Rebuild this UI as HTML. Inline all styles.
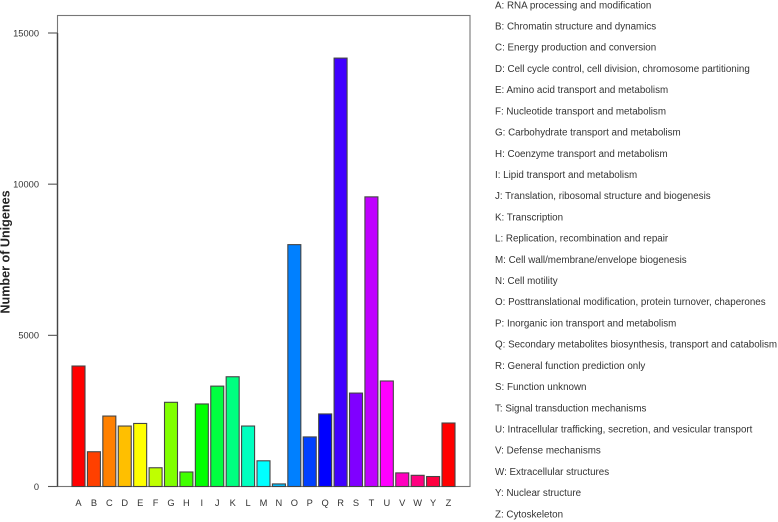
<!DOCTYPE html>
<html lang="en">
<head>
<meta charset="utf-8">
<title>COG function classification</title>
<style>
html,body{margin:0;padding:0;background:#fff;}
body{width:778px;height:522px;overflow:hidden;}
svg{display:block;filter:blur(0.35px);font-family:"Liberation Sans",sans-serif;}
</style>
</head>
<body>
<svg id="chart" width="778" height="522" viewBox="0 0 778 522" xmlns="http://www.w3.org/2000/svg"></svg>
<script>
const categories = ["A","B","C","D","E","F","G","H","I","J","K","L","M","N","O","P","Q","R","S","T","U","V","W","Y","Z"];
const unigeneCounts = [3985,1150,2330,2000,2085,620,2785,480,2730,3320,3630,2000,850,85,8000,1640,2400,14170,3090,9580,3490,450,370,330,2100];
const barColors = ["#ff0000","#ff4000","#ff8000","#ffbf00","#ffff00","#bfff00","#80ff00","#40ff00","#00ff00","#00ff40","#00ff80","#00ffbf","#00ffff","#00bfff","#0080ff","#0040ff","#0000ff","#4000ff","#8000ff","#bf00ff","#ff00ff","#ff00bf","#ff0080","#ff0040","#ff0000"];
const yTicks = [0,5000,10000,15000];
const legendLabels = [
"A: RNA processing and modification",
"B: Chromatin structure and dynamics",
"C: Energy production and conversion",
"D: Cell cycle control, cell division, chromosome partitioning",
"E: Amino acid transport and metabolism",
"F: Nucleotide transport and metabolism",
"G: Carbohydrate transport and metabolism",
"H: Coenzyme transport and metabolism",
"I: Lipid transport and metabolism",
"J: Translation, ribosomal structure and biogenesis",
"K: Transcription",
"L: Replication, recombination and repair",
"M: Cell wall/membrane/envelope biogenesis",
"N: Cell motility",
"O: Posttranslational modification, protein turnover, chaperones",
"P: Inorganic ion transport and metabolism",
"Q: Secondary metabolites biosynthesis, transport and catabolism",
"R: General function prediction only",
"S: Function unknown",
"T: Signal transduction mechanisms",
"U: Intracellular trafficking, secretion, and vesicular transport",
"V: Defense mechanisms",
"W: Extracellular structures",
"Y: Nuclear structure",
"Z: Cytoskeleton"
];

const NS = "http://www.w3.org/2000/svg";
const svg = document.getElementById("chart");
const plot = {left:57.5, right:470, top:15.5, bottom:486.5};
const yScale = v => plot.bottom - v * (453.5 / 15000);
const xScale = i => 78.5 + i * (370 / (categories.length - 1));
const barWidth = 13;

function make(tag, attrs, text){
  const el = document.createElementNS(NS, tag);
  for (const k in attrs) el.setAttribute(k, attrs[k]);
  if (text !== undefined) el.textContent = text;
  svg.appendChild(el);
  return el;
}

const frame = make("rect", {x:plot.left, y:plot.top, width:plot.right-plot.left, height:plot.bottom-plot.top, fill:"none", stroke:"#777", "stroke-width":1.1});



const yAxis = make("line", {x1:plot.left, x2:plot.left, y1:yScale(yTicks[yTicks.length-1]), y2:plot.bottom, stroke:"#444", "stroke-width":1.4});



yTicks.forEach(t => {
  const tick = make("line", {x1:48, x2:plot.left, y1:yScale(t), y2:yScale(t), stroke:"#555", "stroke-width":1.1});
  
  
  const lab = make("text", {x:39, y:yScale(t)+3.3, "text-anchor":"end", "font-size":9.3, fill:"#333"}, String(t));
  
  
});

const yTitle = make("text", {x:0, y:0, transform:"translate(9.5,252) rotate(-90)", "text-anchor":"middle", "font-size":12.6, "font-weight":"bold", fill:"#222"}, "Number of Unigenes");



categories.forEach((c, i) => {
  const top = yScale(unigeneCounts[i]);
  const bar = make("rect", {x:xScale(i)-barWidth/2, y:top, width:barWidth, height:plot.bottom-top, fill:barColors[i], stroke:"#444", "stroke-width":1.1});
  
  
  const lab = make("text", {x:xScale(i), y:506, "text-anchor":"middle", "font-size":9.3, fill:"#333"}, c);
  
  
});

legendLabels.forEach((t, i) => {
  const lab = make("text", {x:495, y:8.3 + i * (509 / 24), "font-size":9.8, fill:"#333"}, t);
  
  
});
</script>
</body>
</html>
